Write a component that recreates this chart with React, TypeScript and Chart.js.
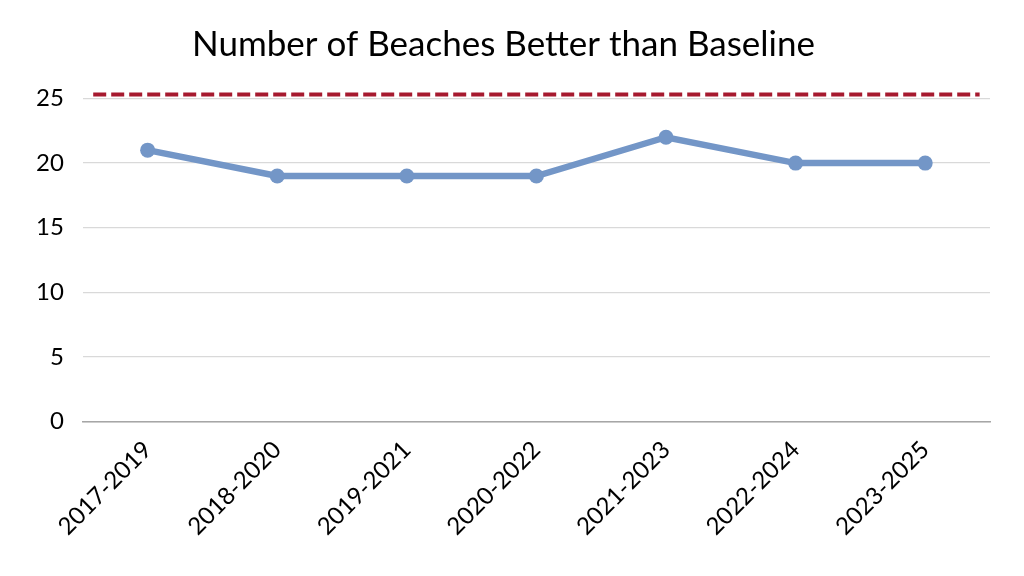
import { useEffect, useRef } from "react";
import Chart from "chart.js/auto";

const periods = ["2017-2019", "2018-2020", "2019-2021", "2020-2022", "2021-2023", "2022-2024", "2023-2025"];
const beachesBetter = [21, 19, 19, 19, 22, 20, 20];
const baselineValue = 25.3;
// baseline line spans nearly the whole plot, in category-index units
const baselineSpan = [-0.42, 6.42];
const yTicks = [0, 5, 10, 15, 20, 25];

export default function App() {
  const canvasRef = useRef<HTMLCanvasElement>(null);
  const chartRef = useRef<any>(null);

  useEffect(() => {
    document.body.style.margin = "0";
    if (!canvasRef.current) return;
    const ctx = canvasRef.current.getContext("2d");
    if (!ctx) return;

    if (chartRef.current) chartRef.current.destroy();

    chartRef.current = new Chart(ctx, {
      type: "line",
      data: {
        labels: periods,
        datasets: [
          {
            label: "Beaches",
            data: beachesBetter,
            borderColor: "#7396C7",
            backgroundColor: "#7396C7",
            borderWidth: 6.5,
            pointRadius: 7.5,
            pointBorderWidth: 0,
            tension: 0,
            xAxisID: "x",
          },
          {
            label: "Baseline",
            data: baselineSpan.map((x) => ({ x, y: baselineValue })),
            borderColor: "#A6192E",
            borderWidth: 4,
            borderDash: [13, 5],
            pointRadius: 0,
            xAxisID: "x2",
          },
        ],
      },
      options: {
        animation: false,
        responsive: true,
        maintainAspectRatio: false,
        layout: { padding: { left: 17, right: 34, bottom: 29, top: 0 } },
        plugins: {
          legend: { display: false },
          tooltip: { enabled: false },
          title: {
            display: true,
            text: "Number of Beaches Better than Baseline",
            color: "#000",
            font: { family: "Lato", size: 35, weight: "normal" },
            padding: { top: 24, bottom: 26 },
          },
        },
        scales: {
          x: {
            type: "category",
            offset: true,
            grid: { display: false },
            border: { display: true, color: "#a6a6a6", width: 1.5 },
            ticks: {
              color: "#000",
              font: { family: "Lato", size: 24 },
              minRotation: 45,
              maxRotation: 45,
              padding: 6,
            },
          },
          x2: {
            type: "linear",
            display: false,
            min: -0.5,
            max: periods.length - 0.5,
          },
          y: {
            min: 0,
            max: 25.5,
            afterBuildTicks: (axis: any) => {
              axis.ticks = yTicks.map((v) => ({ value: v }));
            },
            grid: {
              color: "#d9d9d9",
              lineWidth: 1.2,
              drawTicks: false,
            },
            border: { display: false },
            ticks: {
              color: "#000",
              font: { family: "Lato", size: 24 },
              padding: 19,
            },
          },
        },
      },
    });

    return () => chartRef.current?.destroy();
  }, []);

  return (
    <div style={{ position: "relative", width: 1024, height: 576, background: "#fff" }}>
      <canvas ref={canvasRef} />
    </div>
  );
}
